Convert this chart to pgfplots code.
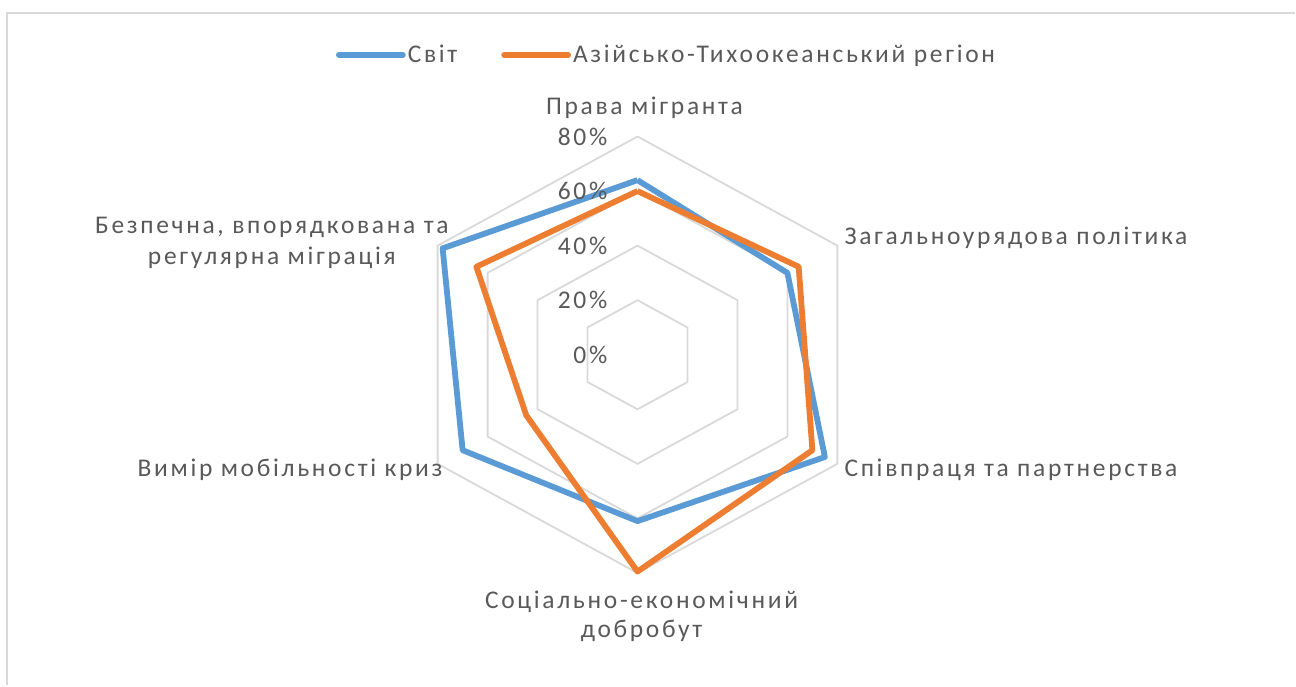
\documentclass[border=0pt]{standalone}
\usepackage{pgfplots}
\pgfplotsset{compat=1.18}
\usepackage{fontspec}
\setmainfont{Carlito}[LetterSpace=10.5]
\definecolor{txt}{HTML}{595959}
\definecolor{gridc}{HTML}{D9D9D9}
\definecolor{blueS}{HTML}{5B9BD5}
\definecolor{orangeS}{HTML}{ED7D31}
\begin{document}
\begin{tikzpicture}[font=\fontsize{25.5bp}{31bp}\selectfont]
\begin{axis}[
  width=1296bp, height=686bp, scale only axis,
  xmin=-220.99, xmax=227.92, ymin=-121.25, ymax=130.04,
  hide axis, clip=false,
  legend columns=2,
  legend style={draw=none, fill=none, at={(rel axis cs:0.5147,0.9198)}, anchor=center,
    font=\fontsize{25.5bp}{30bp}\selectfont, text=txt,
    /tikz/every even column/.append style={column sep=42bp},
    nodes={inner xsep=2bp}},
  legend image code/.code={\draw[#1, line width=5.8bp, line cap=round] (0bp,0bp) -- (64bp,0bp);},
]
% grid rings
\foreach \r in {20,40,60,80} {
  \edef\temp{\noexpand\addplot[gridc, line width=1.8bp, data cs=polar, forget plot] coordinates {(90,\r) (30,\r) (-30,\r) (-90,\r) (-150,\r) (150,\r) (90,\r)};}
  \temp
}
\addplot[blueS, line width=5.8bp, line join=round, data cs=polar] coordinates {
  (90,64) (30,60) (-30,75) (-90,61) (-150,70) (150,78) (90,64)};
\addlegendentry{Світ}
\addplot[orangeS, line width=5.8bp, line join=round, data cs=polar] coordinates {
  (90,60) (30,64.5) (-30,70) (-90,79.5) (-150,44.5) (150,64.5) (90,60)};
\addlegendentry{Азійсько-Тихоокеанський регіон}
% frame
\draw[gridc, line width=2bp] (rel axis cs:0.0054,0) -- (rel axis cs:0.0054,0.98105) -- (rel axis cs:1,0.98105);
\path (rel axis cs:0,0) rectangle (rel axis cs:1,1);
% radial tick labels
\node[anchor=east, inner sep=0, text=txt] at (rel axis cs:0.4691,0.8003) {80\%};
\node[anchor=east, inner sep=0, text=txt] at (rel axis cs:0.4691,0.7216) {60\%};
\node[anchor=east, inner sep=0, text=txt] at (rel axis cs:0.4691,0.6414) {40\%};
\node[anchor=east, inner sep=0, text=txt] at (rel axis cs:0.4691,0.5627) {20\%};
\node[anchor=east, inner sep=0, text=txt] at (rel axis cs:0.4691,0.4825) {0\%};
% category labels
\node[anchor=center, inner sep=0, text=txt] at (rel axis cs:0.4977,0.8426) {Права мігранта};
\node[anchor=west, inner sep=0, text=txt] at (rel axis cs:0.6520,0.6531) {Загальноурядова політика};
\node[anchor=west, inner sep=0, text=txt] at (rel axis cs:0.6520,0.3149) {Співпраця та партнерства};
\node[anchor=center, inner sep=0, text=txt, align=center] at (rel axis cs:0.4954,0.1010) {Соціально-економічний\\[-0.1em]добробут};
\node[anchor=east, inner sep=0, text=txt] at (rel axis cs:0.3418,0.3149) {Вимір мобільності криз};
\node[anchor=center, inner sep=0, text=txt, align=center] at (rel axis cs:0.2099,0.6458) {Безпечна, впорядкована та\\[0em]регулярна міграція};
\end{axis}
\end{tikzpicture}
\end{document}
